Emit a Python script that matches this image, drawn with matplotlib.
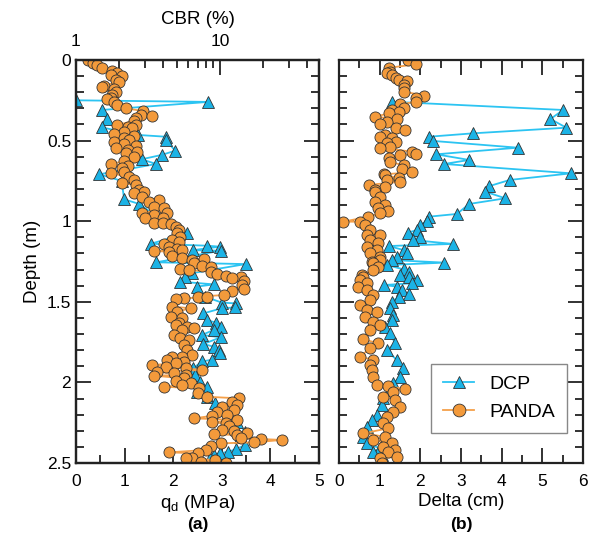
import numpy as np
import matplotlib
matplotlib.use("Agg")
import matplotlib.pyplot as plt
from matplotlib.ticker import FixedLocator, MultipleLocator, FormatStrFormatter, NullFormatter

plt.rcParams['font.family'] = ['Liberation Sans', 'DejaVu Sans']

# DCP, tip resistance (MPa) vs depth (m)
dcp_qd_depth = [0.25, 0.26, 0.31, 0.366, 0.418, 0.465, 0.476, 0.496, 0.563, 0.589, 0.616, 0.645,
                0.709, 0.75, 0.864, 0.893, 1.065, 1.075, 1.14, 1.152, 1.158, 1.18, 1.183, 1.255,
                1.266, 1.323, 1.344, 1.375, 1.392, 1.406, 1.468, 1.505, 1.51, 1.535, 1.54, 1.572,
                1.613, 1.63, 1.658, 1.675, 1.706, 1.72, 1.762, 1.778, 1.80, 1.82, 1.86, 1.87,
                1.913, 1.954, 1.996, 2.027, 2.058, 2.089, 2.13, 2.171, 2.213, 2.244, 2.306, 2.337,
                2.388, 2.415, 2.43, 2.44, 2.45, 2.47]
dcp_qd = [0.0, 2.72, 0.53, 0.63, 0.53, 1.28, 1.85, 1.85, 2.04, 1.76, 1.35, 1.65,
          0.48, 0.94, 0.99, 1.30, 2.10, 2.28, 1.54, 2.70, 2.96, 2.40, 2.98, 1.65,
          3.49, 2.38, 2.24, 2.14, 2.84, 2.48, 2.65, 3.0, 3.29, 3.27, 3.0, 2.62,
          2.69, 2.89, 2.98, 2.83, 2.59, 2.98, 2.62, 2.83, 2.95, 2.96, 2.79, 2.59,
          2.41, 2.45, 2.55, 2.69, 2.48, 2.69, 2.86, 3.0, 3.17, 3.31, 3.48, 3.37,
          3.48, 3.29, 3.13, 2.96, 2.83, 2.75]

# PANDA, tip resistance (MPa) vs depth (m)
panda_qd_depth = [0.0, 0.02, 0.03, 0.05, 0.07, 0.083, 0.093, 0.10, 0.124, 0.135, 0.159, 0.17,
                  0.18, 0.196, 0.217, 0.238, 0.24, 0.258, 0.279, 0.30, 0.316, 0.341, 0.345, 0.358,
                  0.378, 0.403, 0.403, 0.413, 0.424, 0.445, 0.461, 0.47, 0.486, 0.496, 0.51, 0.523,
                  0.531, 0.548, 0.558, 0.569, 0.579, 0.60, 0.627, 0.647, 0.656, 0.672, 0.697, 0.703,
                  0.724, 0.744, 0.765, 0.775, 0.806, 0.817, 0.827, 0.848, 0.868, 0.879, 0.91, 0.92,
                  0.951, 0.951, 0.962, 0.982, 0.982, 1.009, 1.013, 1.017, 1.034, 1.055, 1.075, 1.096,
                  1.117, 1.127, 1.141, 1.158, 1.175, 1.179, 1.185, 1.189, 1.216, 1.23, 1.236, 1.241,
                  1.261, 1.278, 1.286, 1.297, 1.303, 1.313, 1.328, 1.34, 1.348, 1.354, 1.369, 1.396,
                  1.423, 1.433, 1.458, 1.468, 1.472, 1.478, 1.485, 1.53, 1.54, 1.561, 1.592, 1.602,
                  1.633, 1.644, 1.654, 1.664, 1.675, 1.706, 1.727, 1.737, 1.768, 1.799, 1.83, 1.84,
                  1.84, 1.861, 1.871, 1.882, 1.892, 1.903, 1.913, 1.923, 1.934, 1.944, 1.954, 1.958,
                  1.975, 1.991, 2.006, 2.016, 2.027, 2.037, 2.068, 2.089, 2.099, 2.124, 2.14, 2.151,
                  2.171, 2.186, 2.202, 2.207, 2.223, 2.233, 2.248, 2.254, 2.269, 2.295, 2.302, 2.316,
                  2.322, 2.326, 2.347, 2.351, 2.357, 2.372, 2.378, 2.393, 2.419, 2.434, 2.44, 2.467,
                  2.471, 2.481, 2.492, 2.50]
panda_qd = [0.25, 0.34, 0.44, 0.54, 0.75, 0.85, 0.71, 0.95, 0.82, 0.88, 0.58, 0.54,
            0.78, 0.82, 0.75, 0.71, 0.64, 0.78, 0.85, 1.02, 1.37, 1.33, 1.57, 1.23,
            1.19, 0.85, 1.23, 1.06, 1.16, 0.99, 0.78, 1.19, 0.99, 1.09, 0.78, 0.99,
            1.23, 0.82, 1.06, 1.26, 1.02, 1.19, 0.99, 0.71, 1.06, 0.95, 0.99, 0.71,
            1.09, 1.19, 0.95, 1.23, 1.30, 1.40, 1.19, 1.36, 1.71, 1.50, 1.60, 1.81,
            1.36, 1.88, 1.60, 1.43, 1.78, 1.60, 1.80, 1.95, 2.05, 2.12, 2.08, 2.15,
            1.98, 2.12, 1.81, 1.91, 2.08, 2.19, 1.60, 1.91, 1.98, 2.19, 2.63, 2.39,
            2.43, 2.60, 2.77, 2.15, 2.33, 2.77, 2.91, 3.08, 3.39, 3.22, 3.46, 3.42,
            3.46, 3.22, 3.05, 2.50, 2.70, 2.22, 2.05, 1.98, 2.36, 2.08, 1.95, 2.19,
            2.12, 2.05, 2.29, 2.43, 2.19, 2.02, 2.15, 2.33, 2.22, 2.29, 2.39, 2.19,
            1.98, 1.88, 2.22, 2.05, 1.57, 1.85, 2.26, 2.60, 1.67, 2.02, 2.26, 1.60,
            2.22, 2.05, 2.36, 2.19, 1.81, 2.53, 2.50, 2.70, 3.35, 3.22, 3.32, 3.01,
            3.25, 2.91, 3.11, 2.80, 2.43, 3.32, 2.80, 3.08, 3.15, 3.01, 3.25, 3.52,
            2.84, 3.32, 3.39, 3.80, 4.24, 3.66, 2.98, 2.77, 2.67, 1.91, 2.50, 2.39,
            2.26, 2.87, 2.57, 3.08]

# DCP, Delta (cm) vs depth (m)
dcp_delta_depth = [0.259, 0.31, 0.366, 0.42, 0.455, 0.476, 0.502, 0.544, 0.585, 0.62, 0.645, 0.703,
                   0.744, 0.782, 0.817, 0.858, 0.893, 0.955, 0.972, 0.997, 1.024, 1.055, 1.071, 1.096,
                   1.117, 1.141, 1.154, 1.179, 1.199, 1.22, 1.241, 1.257, 1.272, 1.299, 1.313, 1.334,
                   1.348, 1.365, 1.385, 1.396, 1.406, 1.427, 1.452, 1.468, 1.499, 1.54, 1.582, 1.613,
                   1.654, 1.695, 1.757, 1.80, 1.861, 1.913, 1.965, 2.006, 2.047, 2.099, 2.14, 2.202,
                   2.233, 2.275, 2.337, 2.378, 2.409, 2.43, 2.45, 2.477]
dcp_delta = [1.30, 5.51, 5.20, 5.59, 3.29, 2.21, 2.31, 4.40, 2.39, 3.20, 2.59, 5.71,
             4.20, 3.70, 3.60, 4.09, 3.20, 2.90, 2.21, 2.16, 2.00, 1.92, 1.69, 2.00,
             1.82, 2.80, 1.22, 1.59, 1.67, 1.43, 1.30, 2.59, 1.18, 1.59, 1.71, 1.51,
             1.71, 1.92, 1.80, 1.10, 1.43, 1.55, 1.71, 1.47, 1.30, 1.25, 1.34, 1.30,
             1.13, 1.25, 1.38, 1.17, 1.42, 1.58, 1.50, 1.34, 1.25, 1.09, 1.05, 0.93,
             0.80, 0.68, 0.60, 0.68, 1.01, 0.84, 1.05, 1.09]

# PANDA, Delta (cm) vs depth (m)
panda_delta_depth = [0.0, 0.027, 0.048, 0.072, 0.083, 0.093, 0.11, 0.124, 0.13, 0.155, 0.176, 0.196,
                     0.221, 0.234, 0.259, 0.275, 0.296, 0.31, 0.321, 0.331, 0.352, 0.366, 0.383, 0.399,
                     0.42, 0.434, 0.465, 0.476, 0.482, 0.51, 0.517, 0.538, 0.544, 0.569, 0.585, 0.589,
                     0.61, 0.635, 0.651, 0.676, 0.697, 0.709, 0.713, 0.734, 0.744, 0.755, 0.775, 0.786,
                     0.806, 0.817, 0.848, 0.879, 0.899, 0.92, 0.935, 0.951, 0.972, 1.003, 1.003, 1.024,
                     1.055, 1.086, 1.086, 1.117, 1.137, 1.158, 1.179, 1.199, 1.22, 1.241, 1.251, 1.261,
                     1.282, 1.303, 1.334, 1.344, 1.365, 1.385, 1.406, 1.427, 1.458, 1.489, 1.52, 1.551,
                     1.561, 1.592, 1.623, 1.644, 1.675, 1.733, 1.757, 1.789, 1.84, 1.861, 1.892, 1.923,
                     1.965, 2.016, 2.022, 2.043, 2.058, 2.089, 2.109, 2.151, 2.182, 2.213, 2.254, 2.285,
                     2.316, 2.337, 2.357, 2.378, 2.399, 2.419, 2.43, 2.461, 2.471, 2.50]
panda_delta = [1.69, 1.90, 1.22, 1.26, 1.18, 1.30, 1.39, 1.47, 1.67, 1.59, 1.59, 1.59,
               2.10, 1.90, 1.90, 1.51, 1.59, 1.30, 1.47, 1.22, 0.89, 1.43, 1.18, 1.02,
               1.39, 1.63, 1.14, 1.02, 1.30, 1.39, 1.18, 1.26, 1.02, 1.80, 1.90, 1.51,
               1.22, 1.26, 1.59, 1.55, 1.80, 1.10, 1.13, 1.47, 1.18, 1.51, 0.73, 1.14,
               0.89, 0.89, 1.01, 0.89, 1.13, 0.97, 1.21, 1.01, 0.72, 0.11, 0.52, 0.64,
               0.76, 0.68, 1.01, 0.76, 0.97, 0.68, 0.93, 0.76, 1.01, 1.01, 0.80, 0.84,
               0.97, 0.84, 0.56, 0.60, 0.52, 0.68, 0.47, 0.68, 0.84, 0.76, 0.52, 0.68,
               0.93, 0.64, 0.84, 1.01, 0.76, 0.60, 0.97, 0.76, 0.52, 0.84, 0.76, 0.80,
               0.84, 0.93, 1.21, 1.62, 1.34, 1.09, 1.38, 1.50, 1.34, 1.17, 1.09, 1.21,
               0.60, 1.13, 0.84, 1.30, 1.09, 1.38, 1.21, 1.42, 1.01, 1.05]

blue_face = '#1BB3E6'
blue_line = '#2CC4F2'
orange_face = '#F39A3B'
orange_line = '#F5A04A'
edge = '#333333'


def by_depth(depth, vals):
    d = np.asarray(depth)
    v = np.asarray(vals)
    idx = np.argsort(d, kind='stable')
    return v[idx], d[idx]


def style_axis(ax):
    for s in ax.spines.values():
        s.set_linewidth(1.6)
        s.set_color('#222222')
    ax.tick_params(which='both', direction='in', top=True, right=True,
                   width=1.3, colors='#222222', labelsize=12.5, labelcolor='black')
    ax.tick_params(which='major', length=11)
    ax.tick_params(which='minor', length=6)
    ax.tick_params(axis='x', pad=8)
    ax.yaxis.set_major_locator(MultipleLocator(0.5))
    ax.yaxis.set_minor_locator(MultipleLocator(0.1))


fig = plt.figure(figsize=(5.96, 5.41), dpi=100)
ax1 = fig.add_axes([76 / 596, 1 - 463 / 541, 243 / 596, 403 / 541])
ax2 = fig.add_axes([339 / 596, 1 - 463 / 541, 244 / 596, 403 / 541])

mk = dict(markersize=8, markeredgewidth=0.6, markeredgecolor=edge, linewidth=1.3)

x, y = by_depth(dcp_qd_depth, dcp_qd)
ax1.plot(x, y, '-^', color=blue_line, markerfacecolor=blue_face, **mk)
x, y = by_depth(panda_qd_depth, panda_qd)
ax1.plot(x, y, '-o', color=orange_line, markerfacecolor=orange_face, **mk)

x, y = by_depth(dcp_delta_depth, dcp_delta)
ax2.plot(x, y, '-^', color=blue_line, markerfacecolor=blue_face, label='DCP', **mk)
x, y = by_depth(panda_delta_depth, panda_delta)
ax2.plot(x, y, '-o', color=orange_line, markerfacecolor=orange_face, label='PANDA', **mk)

for ax in (ax1, ax2):
    ax.set_ylim(2.5, 0)
    style_axis(ax)

ax1.set_xlim(0, 5)
ax1.xaxis.set_major_locator(MultipleLocator(1))
ax1.xaxis.set_minor_locator(MultipleLocator(0.5))
ax1.yaxis.set_major_formatter(FormatStrFormatter('%g'))
ax1.tick_params(top=False)
ax1.set_ylabel('Depth (m)', fontsize=13.5, labelpad=4)
ax1.set_xlabel('q$_\\mathregular{d}$ (MPa)', fontsize=13.5, labelpad=3)
ax1.text(0.5, -0.152, '(a)', transform=ax1.transAxes, ha='center', va='center',
         fontsize=12.5, fontweight='bold')

# CBR scale on top of the left panel
ax_top = ax1.twiny()
ax_top.set_xscale('log')
ax_top.set_xlim(1, 10 ** (243 / 144))
ax_top.xaxis.set_major_locator(FixedLocator([1, 10]))
ax_top.xaxis.set_minor_locator(FixedLocator([2, 3, 4, 5, 6, 7, 8, 9, 20, 30, 40]))
ax_top.xaxis.set_major_formatter(FormatStrFormatter('%g'))
ax_top.xaxis.set_minor_formatter(NullFormatter())
ax_top.tick_params(which='both', direction='in', width=1.3, colors='#222222',
                   labelsize=12.5, labelcolor='black', pad=8)
ax_top.tick_params(which='major', length=11)
ax_top.tick_params(which='minor', length=6)
ax_top.set_xlabel('CBR (%)', fontsize=13.5, labelpad=7)
for s in ax_top.spines.values():
    s.set_linewidth(1.6)
    s.set_color('#222222')

ax2.set_xlim(0, 6)
ax2.xaxis.set_major_locator(MultipleLocator(1))
ax2.xaxis.set_minor_locator(MultipleLocator(0.5))
ax2.tick_params(labelleft=False)
ax2.set_xlabel('Delta (cm)', fontsize=13.5, labelpad=3)
ax2.text(0.5, -0.152, '(b)', transform=ax2.transAxes, ha='center', va='center',
         fontsize=12.5, fontweight='bold')

leg = ax2.legend(loc='lower right', bbox_to_anchor=(0.935, 0.075), borderaxespad=0,
                 fontsize=14, fancybox=False, framealpha=1, edgecolor='#888888',
                 handlelength=1.6, borderpad=0.6, labelspacing=0.55, markerscale=1.15)
leg.get_frame().set_linewidth(1.0)

fig.savefig('out.png', dpi=100)
